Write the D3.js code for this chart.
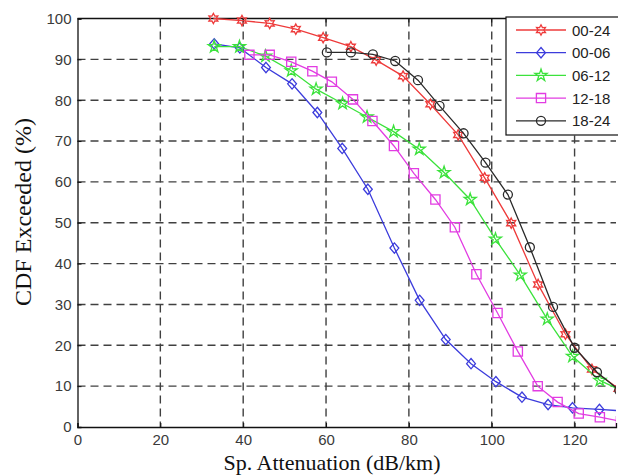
<!DOCTYPE html>
<html>
<head>
<meta charset="utf-8">
<script src="https://cdn.jsdelivr.net/npm/d3@7"></script>
<style>
  html, body { margin: 0; padding: 0; background: #fff; }
  svg { display: block; }
</style>
</head>
<body>
<svg id="chart" width="618" height="476"></svg>
<script>
// Specific attenuation (dB/km) and CDF exceeded (%) for each time-of-day window
const seriesNames = ["00-24", "00-06", "06-12", "12-18", "18-24"];

const att0024 = [32.8, 39.7, 46.4, 52.7, 59.3, 66.0, 72.1, 78.6, 85.2, 91.9, 98.3, 104.7, 111.2, 117.8, 124.2, 130.6];
const cdf0024 = [100, 99.5, 98.8, 97.4, 95.3, 93.1, 89.8, 85.9, 79.0, 71.5, 61.0, 49.9, 34.9, 22.7, 14.1, 9.4];

const att0006 = [33.0, 39.2, 45.5, 51.8, 57.9, 63.9, 70.1, 76.5, 82.6, 88.9, 95.0, 101.0, 107.3, 113.6, 119.5, 126.0, 132.0];
const cdf0006 = [93.8, 92.8, 88.0, 84.0, 77.0, 68.2, 58.2, 43.8, 31.0, 21.4, 15.5, 11.1, 7.3, 5.5, 4.7, 4.3, 3.9];

const att0612 = [33.0, 39.1, 45.4, 51.6, 57.6, 64.0, 69.9, 76.3, 82.5, 88.5, 94.8, 100.9, 106.9, 113.4, 119.5, 126.1, 132.2];
const cdf0612 = [93.1, 93.1, 90.8, 87.2, 82.7, 79.2, 75.9, 72.3, 68.0, 62.3, 55.7, 46.0, 37.2, 26.4, 17.3, 11.4, 8.5];

const att1218 = [41.5, 46.4, 51.6, 56.7, 61.4, 66.5, 71.2, 76.4, 81.2, 86.4, 91.1, 96.3, 101.4, 106.3, 111.1, 115.9, 121.0, 126.1, 131.2];
const cdf1218 = [91.1, 91.1, 89.4, 87.1, 84.5, 80.2, 74.9, 68.8, 62.1, 55.7, 48.9, 37.4, 27.9, 18.5, 10.0, 6.1, 3.3, 2.4, 1.4];

const att1824 = [60.2, 66.0, 71.3, 76.7, 82.2, 87.4, 93.2, 98.5, 103.9, 109.2, 114.8, 120.0, 125.4, 130.8];
const cdf1824 = [91.7, 91.7, 91.2, 89.6, 84.9, 78.6, 71.9, 64.7, 56.9, 44.0, 29.4, 19.4, 13.4, 9.0];

const xTicks = [0, 20, 40, 60, 80, 100, 120];
const yTicks = [0, 10, 20, 30, 40, 50, 60, 70, 80, 90, 100];

// MATLAB-like marker shapes
const hexagram = {
  draw(ctx, size) {
    const R = Math.sqrt(size) * 0.62, r = R * 0.55;
    for (let i = 0; i < 12; i++) {
      const a = -Math.PI / 2 + i * Math.PI / 6;
      const rad = i % 2 === 0 ? R : r;
      const px = rad * Math.cos(a), py = rad * Math.sin(a);
      i === 0 ? ctx.moveTo(px, py) : ctx.lineTo(px, py);
    }
    ctx.closePath();
  }
};
const diamond = {
  draw(ctx, size) {
    const h = Math.sqrt(size) * 0.62;
    ctx.moveTo(0, -h); ctx.lineTo(h * 0.85, 0); ctx.lineTo(0, h); ctx.lineTo(-h * 0.85, 0); ctx.closePath();
  }
};

const series = [
  { name: seriesNames[0], x: att0024, y: cdf0024, color: "#ee3b3b", shape: hexagram, size: 70 },
  { name: seriesNames[1], x: att0006, y: cdf0006, color: "#3c3cdc", shape: diamond, size: 70 },
  { name: seriesNames[2], x: att0612, y: cdf0612, color: "#3ce23c", shape: d3.symbolStar, size: 45 },
  { name: seriesNames[3], x: att1218, y: cdf1218, color: "#e23ce2", shape: d3.symbolSquare, size: 85 },
  { name: seriesNames[4], x: att1824, y: cdf1824, color: "#2a2a2a", shape: d3.symbolCircle, size: 64 }
];

const plotLeft = 77.5, plotRight = 616, plotTop = 18.5, plotBottom = 427;
const x = d3.scaleLinear().domain([0, 130]).range([plotLeft, plotRight]);
const y = d3.scaleLinear().domain([0, 100]).range([plotBottom, plotTop]);

const svg = d3.select("#chart");

svg.append("defs").append("clipPath").attr("id", "plotClip")
  .append("rect").attr("x", plotLeft).attr("y", plotTop - 8)
  .attr("width", plotRight - plotLeft).attr("height", plotBottom - plotTop + 8);

// dashed grid
const grid = svg.append("g");
grid.selectAll("line.vx").data(xTicks.filter(d => d > 0)).join("line")
  .attr("x1", d => x(d)).attr("x2", d => x(d)).attr("y1", plotTop).attr("y2", plotBottom)
  .attr("stroke", "#404040").attr("stroke-width", 1.4).attr("stroke-dasharray", "8,5");
grid.selectAll("line.hy").data(yTicks.filter(d => d > 0 && d < 100)).join("line")
  .attr("x1", plotLeft).attr("x2", plotRight).attr("y1", d => y(d)).attr("y2", d => y(d))
  .attr("stroke", "#404040").attr("stroke-width", 1.4).attr("stroke-dasharray", "8,5");

// axes
const xAxis = d3.axisBottom(x).tickValues(xTicks).tickSize(-4).tickPadding(9).tickFormat(d3.format("d"));
const yAxis = d3.axisLeft(y).tickValues(yTicks).tickSize(-4).tickPadding(6).tickFormat(d3.format("d"));

const gx = svg.append("g").attr("transform", `translate(0,${plotBottom})`).call(xAxis);
const gy = svg.append("g").attr("transform", `translate(${plotLeft},0)`).call(yAxis);
[gx, gy].forEach(g => {
  g.select(".domain").attr("stroke", "#111").attr("stroke-width", 1.3);
  g.selectAll(".tick line").attr("stroke", "#111");
  g.selectAll(".tick text").attr("font-family", "Liberation Sans, Arial, sans-serif")
    .attr("font-size", 15).attr("fill", "#3a3a3a");
});
gx.selectAll(".tick text").attr("dy", "0.6em");

// top border with ticks
svg.append("line").attr("x1", plotLeft).attr("x2", plotRight).attr("y1", plotTop).attr("y2", plotTop)
  .attr("stroke", "#111").attr("stroke-width", 1.3);
svg.append("g").selectAll("line").data(xTicks.filter(d => d > 0)).join("line")
  .attr("x1", d => x(d)).attr("x2", d => x(d)).attr("y1", plotTop).attr("y2", plotTop + 4)
  .attr("stroke", "#111");

// series lines and markers
const line = d3.line().x(d => x(d[0])).y(d => y(d[1]));
const plot = svg.append("g").attr("clip-path", "url(#plotClip)");
series.forEach(s => {
  const pts = s.x.map((v, i) => [v, s.y[i]]);
  plot.append("path").datum(pts).attr("d", line)
    .attr("fill", "none").attr("stroke", s.color).attr("stroke-width", 1.3);
  plot.selectAll(null).data(pts).join("path")
    .attr("d", d3.symbol().type(s.shape).size(s.size))
    .attr("transform", d => `translate(${x(d[0])},${y(d[1])})`)
    .attr("fill", "none").attr("stroke", s.color).attr("stroke-width", 1.3);
});

// axis titles
svg.append("text").attr("x", 332).attr("y", 470).attr("text-anchor", "middle")
  .attr("font-family", "Liberation Serif, Times New Roman, serif").attr("font-size", 22).attr("fill", "#111")
  .text("Sp. Attenuation (dB/km)");
svg.append("text").attr("transform", "translate(31,212) rotate(-90)").attr("text-anchor", "middle")
  .attr("font-family", "Liberation Serif, Times New Roman, serif").attr("font-size", 24).attr("fill", "#111")
  .text("CDF Exceeded (%)");

// legend
const lg = svg.append("g");
lg.append("rect").attr("x", 506).attr("y", 17).attr("width", 130).attr("height", 118)
  .attr("fill", "#fff").attr("stroke", "#111").attr("stroke-width", 1.2);
series.forEach((s, i) => {
  const cy = 30 + i * 22.7;
  lg.append("line").attr("x1", 516).attr("x2", 566).attr("y1", cy).attr("y2", cy)
    .attr("stroke", s.color).attr("stroke-width", 1.3);
  lg.append("path").attr("d", d3.symbol().type(s.shape).size(s.size))
    .attr("transform", `translate(541,${cy})`)
    .attr("fill", "none").attr("stroke", s.color).attr("stroke-width", 1.3);
  lg.append("text").attr("x", 572).attr("y", cy + 5.5)
    .attr("font-family", "Liberation Sans, Arial, sans-serif").attr("font-size", 15).attr("fill", "#222")
    .text(s.name);
});
</script>
</body>
</html>
